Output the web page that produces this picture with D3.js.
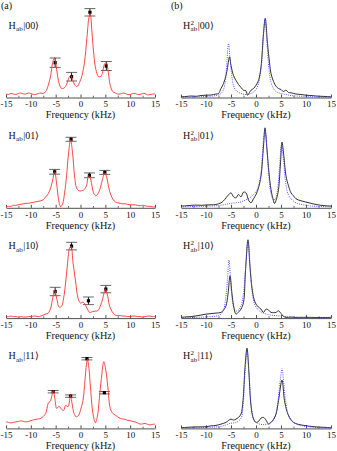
<!DOCTYPE html>
<html>
<head>
<meta charset="utf-8">
<script src="https://cdn.jsdelivr.net/npm/d3@7"></script>
<style>
  body { margin: 0; background: #fff; }
</style>
</head>
<body>
<svg id="fig" width="337" height="451"></svg>
<script>
// tick values (kHz)
const freqTicks = [-15, -10, -5, 0, 5, 10, 15];
const minorTicks = [-12.5, -7.5, -2.5, 2.5, 7.5, 12.5];
const stateLabels = ['00', '01', '10', '11'];

// (a) measured spectra, [frequency kHz, intensity a.u.]
const redA00 = [[-15,3.5],[-14.5,3],[-14,4],[-13.5,3.5],[-13,3],[-12.5,4],[-12,4.5],[-11.5,3.5],[-11,3.5],[-10.5,4.5],[-10,4],[-9.5,3],[-9,3],[-8.5,4],[-8,4.5],[-7.5,4],[-7,6],[-6.5,12],[-6,22],[-5.6,35],[-5.2,40],[-4.8,28],[-4.3,14],[-3.8,9],[-3.3,9.5],[-2.8,13],[-2.4,19],[-2,22],[-1.6,18],[-1.2,13],[-0.7,11],[-0.2,15],[0.3,22],[0.8,35],[1.3,60],[1.7,80],[1.95,84],[2.3,66],[2.7,42],[3.1,28],[3.6,21],[4.1,21],[4.4,24],[4.8,33],[5.2,35],[5.6,25],[6,12],[6.5,6],[7,4.5],[7.5,3.5],[8,3.5],[8.5,4.5],[9,4],[9.5,3],[10,3],[10.5,4],[11,4],[11.5,3],[12,3],[12.5,4],[13,4],[13.5,2.5],[14,3],[14.5,3.5],[15,3.5]];
const redA01 = [[-15,1],[-14.5,1.5],[-14,1.5],[-13.5,2.5],[-13,2.5],[-12.5,3],[-12,3.5],[-11.5,4],[-11,4.5],[-10.5,4.5],[-10,5],[-9.5,5.5],[-9,6],[-8.5,6.5],[-8,7],[-7.5,8],[-7,11],[-6.5,14],[-6,20],[-5.6,28],[-5.2,36],[-4.8,24],[-4.4,8],[-4,1],[-3.6,4],[-3.2,15],[-2.8,32],[-2.4,55],[-2,68],[-1.6,55],[-1.2,32],[-0.8,20],[-0.3,17],[0.2,17],[0.7,18],[1.2,22],[1.6,32],[1.9,31],[2.3,22],[2.7,14],[3.1,12],[3.5,14],[4,20],[4.4,28],[4.9,35],[5.3,30],[5.7,20],[6.1,13],[6.6,8],[7,6],[7.5,5],[8,4.5],[8.5,4],[9,4],[9.5,3.5],[10,3],[10.5,3],[11,3],[11.5,2.5],[12,2],[12.5,2.5],[13,2],[13.5,1.5],[14,1.5],[14.5,1],[15,1]];
const redA10 = [[-15,1.3],[-14.5,1.5],[-14,2],[-13.5,1.5],[-13,1.5],[-12.5,1],[-12,1.5],[-11.5,1],[-11,1],[-10.5,1.5],[-10,1.5],[-9.5,2],[-9,2],[-8.5,1.5],[-8,2],[-7.5,3],[-7,4],[-6.5,5],[-6,10],[-5.6,20],[-5.2,28],[-4.8,20],[-4.3,11],[-3.8,12],[-3.4,20],[-3,35],[-2.6,55],[-2.2,70],[-1.9,72],[-1.5,55],[-1,37],[-0.5,20],[0,15],[0.5,16],[1,13],[1.5,8],[1.9,5.5],[2.4,6.5],[3,7],[3.5,7.5],[4,12],[4.5,20],[5,29],[5.4,24],[5.8,13],[6.3,7],[7,3],[7.5,2.5],[8,2.5],[8.5,2],[9,2],[9.5,1.5],[10,1.5],[10.5,2],[11,2],[11.5,1.5],[12,1.5],[12.5,1],[13,1.5],[13.5,2],[14,2],[14.5,1.5],[15,1.5]];
const redA11 = [[-15,6.7],[-14.5,6],[-14,5.5],[-13.5,6],[-13,6.5],[-12.5,7],[-12,7.5],[-11.5,7],[-11,6.5],[-10.5,7],[-10,7.7],[-9.5,8.5],[-9,9],[-8.5,9.5],[-8,10],[-7.5,12],[-7,15],[-6.5,25],[-6,28],[-5.8,32],[-5.5,37.7],[-5.1,28],[-4.8,20],[-4.3,22],[-3.8,19],[-3.4,18],[-3,23],[-2.5,21.7],[-2.2,28],[-2,33],[-1.7,25],[-1.3,15],[-0.9,11.7],[-0.4,13],[0.1,20],[0.5,28],[0.9,48],[1.2,64],[1.4,69],[1.7,60],[2.1,35],[2.5,15],[3,5.7],[3.4,12],[3.8,30],[4.2,50],[4.7,66.7],[5.1,58],[5.5,41.7],[6,20],[6.5,15],[7,13.3],[7.5,11.5],[8,10],[8.5,9.5],[9,9],[9.5,8],[10,7.7],[10.5,7],[11,6.5],[11.5,5.5],[12,4.3],[12.5,4.5],[13,5],[13.5,4],[14,3.5],[14.5,4],[15,4.3]];

// (a) peak estimates, [frequency, intensity, error]
const markA00 = [[-5.1,34.8,4.7],[-1.8,20.8,4.3],[1.9,85.2,3.7],[5.2,31.5,4.5]];
const markA01 = [[-5.2,36,2.4],[-1.9,68.5,2],[1.8,32.5,2.4],[4.9,35.4,2]];
const markA10 = [[-5.1,26.6,4.2],[-1.8,72,3.8],[1.6,17.3,3.8],[5.1,29,3.7]];
const markA11 = [[-5.5,36.7,1.2],[-2.0,32.3,1.2],[1.3,69.7,1.2],[4.8,35.7,1.2]];

// (b) measured (black) and simulated (blue) spectra
const blackB00 = [[-15,0.7],[-14,1],[-13,1.5],[-12,1.2],[-11,2],[-10,2.3],[-9,2.5],[-8,3.5],[-7.5,4],[-7,9],[-6.5,14],[-6,22],[-5.7,30],[-5.3,40.7],[-5,32],[-4.5,22],[-4,17],[-3.5,13],[-3,10],[-2.5,7.3],[-2,6.7],[-1.7,2.3],[-1.3,5],[-1,7.3],[-0.5,9],[0,12.3],[0.5,17],[1,30.7],[1.5,64],[1.85,79],[2.3,54],[2.7,35],[3,24],[3.5,16],[4,11.3],[4.5,9],[5,8],[5.5,6],[6,7.3],[6.5,5],[7,4.7],[8,3.5],[9,3],[10,2.3],[11,2],[12,1.5],[13,1.2],[14,1],[15,0.7]];
const blueB00 = [[-15,0.3],[-12,0.7],[-10,1],[-8,2],[-7,4],[-6.5,8],[-6.1,18],[-5.8,38],[-5.5,54],[-5.2,40],[-4.9,24],[-4.5,12],[-4,7],[-3,4],[-2,3],[-1,4],[0,8],[0.5,14],[1,28],[1.4,55],[1.8,79],[2.2,55],[2.6,28],[3,15],[3.5,9],[4,6],[5,4],[6,3],[7,2],[10,1],[12,0.6],[15,0.3]];
const blackB01 = [[-15,1.7],[-14,2],[-13,2.5],[-12,2.7],[-11,2.5],[-10,2.8],[-9,3],[-8,3.3],[-7,5],[-6.5,7],[-6,10],[-5.5,13],[-5,15],[-4.5,11],[-4,10],[-3.5,13.3],[-3,11],[-2.5,15.7],[-2,15],[-1.5,7.7],[-1,5],[-0.5,9],[0,13.3],[0.5,20],[1,31.7],[1.5,61.7],[1.8,80],[2.2,58],[2.6,35],[3,18.3],[3.4,9],[3.7,4.3],[4.1,9],[4.5,18.3],[4.9,45],[5.2,65.7],[5.6,50],[6,31.7],[6.5,22],[7,15],[7.5,12],[8,9],[9,7],[10,5.7],[11,4.5],[12,3.3],[13,2.5],[14,2],[15,1.7]];
const blueB01 = [[-15,1],[-12,1.3],[-10,1.6],[-8,2],[-7,2.5],[-6,3.5],[-5,4.5],[-4,5],[-3,6],[-2,8],[-1,11],[0,16],[0.5,22],[1,35],[1.4,62],[1.8,78],[2.2,58],[2.6,30],[3,14],[3.5,8],[3.9,9],[4.3,18],[4.7,40],[5.1,63],[5.5,48],[5.9,26],[6.4,14],[7,9],[8,5],[10,2.5],[12,1.5],[15,1]];
const blackB10 = [[-15,0.7],[-14,1.2],[-13,1.5],[-12,2.2],[-11,3],[-10,4],[-9,4.5],[-8,5],[-7,5.7],[-6.5,8],[-6,12.3],[-5.6,24],[-5.2,42.3],[-4.8,24],[-4.4,10],[-4,4],[-3.5,6],[-3,9],[-2.5,15.7],[-2.1,47.3],[-1.6,78.3],[-1.2,50.7],[-0.8,30],[-0.4,19],[0,14],[0.5,11],[1,9],[1.5,5.7],[2,9],[2.5,8],[3,5.7],[3.5,5.5],[4,5.7],[4.5,7.3],[5,4.7],[5.5,1.7],[6,0.8],[7,1],[8,0.7],[10,0.8],[12,0.6],[15,0.7]];
const blueB10 = [[-15,0.3],[-12,0.7],[-10,1.2],[-8,2],[-7,4],[-6.5,8],[-6.1,18],[-5.7,40],[-5.4,58],[-5.1,40],[-4.8,20],[-4.4,10],[-4,7],[-3.5,8],[-3,12],[-2.5,25],[-2,55],[-1.6,77],[-1.2,55],[-0.8,28],[-0.3,14],[0.5,8],[1.5,5],[3,3],[5,2],[7,1],[10,0.6],[15,0.3]];
const blackB11 = [[-15,0.7],[-14,1],[-13,1.3],[-12,1.5],[-11,1.5],[-10,1.7],[-9,2.5],[-8,3],[-7,4.3],[-6,6],[-5.5,8],[-5,9.3],[-4.5,8.3],[-4,9.3],[-3.5,11],[-3,14.3],[-2.6,27.7],[-2.2,61],[-1.8,80.3],[-1.4,54.3],[-1,22.7],[-0.5,9.3],[0,6],[0.5,7],[1,10.3],[1.5,11],[2,8.3],[2.5,4.3],[3,6],[3.5,9],[4,14.3],[4.5,27.7],[5.2,48.3],[5.7,27.7],[6.2,17],[6.7,11],[7.5,6],[8.5,4],[10,2.7],[11,2],[12,1.5],[13,1.2],[14,1],[15,0.7]];
const blueB11 = [[-15,0.5],[-12,0.8],[-10,1],[-8,1.5],[-7,2],[-6,3.5],[-5.2,5],[-4,6],[-3,10],[-2.6,22],[-2.2,55],[-1.8,78],[-1.4,55],[-1,25],[-0.5,10],[0,6],[1,4],[2,4],[3,6],[3.6,9],[4,15],[4.5,32],[4.9,50],[5.2,60],[5.5,48],[5.9,28],[6.4,14],[7,8],[7.5,6],[8.5,3.5],[10,2],[12,1],[15,0.5]];

const redA = [redA00, redA01, redA10, redA11];
const markA = [markA00, markA01, markA10, markA11];
const blackB = [blackB00, blackB01, blackB10, blackB11];
const blueB = [blueB00, blueB01, blueB10, blueB11];

const FONT = "'Liberation Serif', serif";
const svg = d3.select('#fig').style('font-family', FONT);
const rowAxisY0 = 97.5, rowStep = 110.3, plotH = 88;
const colRange = [[6, 155], [181, 331]];
const capHalf = 1.1; // kHz

function txt(g, x, y, size, s) {
    return g.append('text').attr('x', x).attr('y', y)
        .style('font-family', FONT).style('font-size', size + 'px').style('fill', '#111').text(s);
}

// panel letters
txt(svg, 1, 9, 10, '(a)');
txt(svg, 171, 9, 10, '(b)');

// H_ab|xx> label, optionally squared
function stateLabel(g, x0, y0, state, squared) {
    const h = txt(g, x0, y0, 10, 'H');
    const wH = h.node().getComputedTextLength();
    if (squared) txt(g, x0 + wH + 0.3, y0 - 4, 7, '2');
    const sub = txt(g, x0 + wH + 0.3, y0 + 2.5, 7, 'ab');
    const wSub = sub.node().getComputedTextLength();
    txt(g, x0 + wH + wSub + 0.8, y0, 10, '|' + state + '\u27E9');
}

function drawAxis(g, x, axisY) {
    const major = d3.axisBottom(x).tickValues(freqTicks).tickSize(-3).tickSizeOuter(0)
        .tickPadding(3.5).tickFormat(d => String(d));
    const minor = d3.axisBottom(x).tickValues(minorTicks).tickSize(-1.8).tickSizeOuter(0).tickFormat('');
    const ga = g.append('g').attr('transform', 'translate(0,' + axisY + ')').call(major);
    ga.attr('font-family', null).attr('font-size', null);
    ga.selectAll('text').style('font-family', FONT).style('font-size', '9px').style('fill', '#111');
    ga.selectAll('line,path').attr('stroke', '#222').attr('stroke-width', 0.8);
    const gm = g.append('g').attr('transform', 'translate(0,' + axisY + ')').call(minor);
    gm.select('path').remove();
    gm.selectAll('line').attr('stroke', '#222').attr('stroke-width', 0.7);
    txt(g, (x.range()[0] + x.range()[1]) / 2, axisY + 20.8, 10.2, 'Frequency (kHz)')
        .attr('text-anchor', 'middle');
}

stateLabels.forEach((st, i) => {
    const axisY = rowAxisY0 + i * rowStep;
    const y = d3.scaleLinear().domain([0, plotH]).range([axisY, axisY - plotH]);

    // ---- column (a)
    const xa = d3.scaleLinear().domain([-15, 15]).range(colRange[0]);
    const ga = svg.append('g');
    drawAxis(ga, xa, axisY);
    stateLabel(ga, 8.5, axisY - 69, st, false);

    const lineA = d3.line().x(d => xa(d[0])).y(d => y(d[1])).curve(d3.curveCatmullRom.alpha(0.5));

    const mk = ga.append('g').selectAll('g').data(markA[i]).enter().append('g');
    mk.append('line')
        .attr('x1', d => xa(d[0])).attr('x2', d => xa(d[0]))
        .attr('y1', d => y(d[1] - d[2])).attr('y2', d => y(d[1] + d[2]))
        .attr('stroke', '#000').attr('stroke-width', 0.9);
    [-1, 1].forEach(s => {
        mk.append('line')
            .attr('x1', d => xa(d[0] - capHalf)).attr('x2', d => xa(d[0] + capHalf))
            .attr('y1', d => y(d[1] + s * d[2])).attr('y2', d => y(d[1] + s * d[2]))
            .attr('stroke', '#555').attr('stroke-width', 0.9);
    });
    mk.append('rect')
        .attr('x', d => xa(d[0]) - 1.6).attr('y', d => y(d[1]) - 1.6)
        .attr('width', 3.2).attr('height', 3.2).attr('fill', '#000');

    ga.append('path').datum(redA[i]).attr('d', lineA)
        .attr('fill', 'none').attr('stroke', '#ff3030').attr('stroke-width', 0.9);

    // ---- column (b)
    const xb = d3.scaleLinear().domain([-15, 15]).range(colRange[1]);
    const gb = svg.append('g');
    drawAxis(gb, xb, axisY);
    stateLabel(gb, 183, axisY - 69, st, true);

    const lineB = d3.line().x(d => xb(d[0])).y(d => y(d[1])).curve(d3.curveCatmullRom.alpha(0.5));
    gb.append('path').datum(blackB[i]).attr('d', lineB)
        .attr('fill', 'none').attr('stroke', '#1a1a1a').attr('stroke-width', 0.9);
    gb.append('path').datum(blueB[i]).attr('d', lineB)
        .attr('fill', 'none').attr('stroke', '#4646ff').attr('stroke-width', 1)
        .attr('stroke-dasharray', '0.9,1.3');
});
</script>
</body>
</html>
